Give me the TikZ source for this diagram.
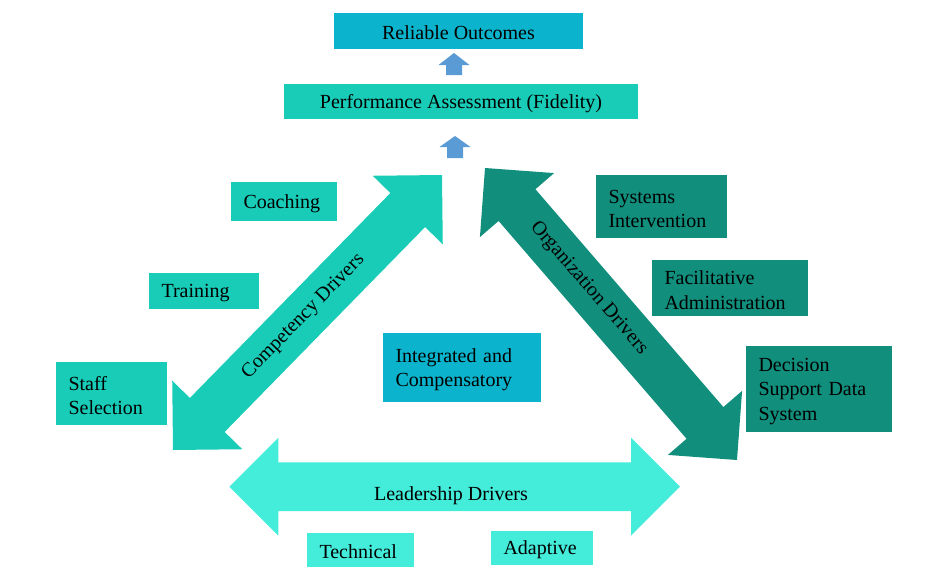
\documentclass[tikz,border=0pt]{standalone}
\usepackage{fontspec}
\setmainfont{Liberation Serif}
\usetikzlibrary{calc}
\definecolor{cyanbox}{RGB}{11,180,204}
\definecolor{compc}{RGB}{24,204,183}
\definecolor{orgc}{RGB}{18,142,125}
\definecolor{leadc}{RGB}{68,236,218}
\definecolor{smallarr}{RGB}{91,155,213}

% #1 colour, #2 start coordinate, #3 end coordinate
\newcommand\DblArrow[3]{%
  \coordinate (#2-h) at ($(#2)!49pt!(#3)$);
  \coordinate (#3-h) at ($(#3)!49pt!(#2)$);
  \fill[#1] (#2) -- ($(#2-h)!49pt!90:(#3)$) -- ($(#2-h)!24.3pt!90:(#3)$)
    -- ($(#3-h)!24.3pt!-90:(#2)$) -- ($(#3-h)!49pt!-90:(#2)$) -- (#3)
    -- ($(#3-h)!49pt!90:(#2)$) -- ($(#3-h)!24.3pt!90:(#2)$)
    -- ($(#2-h)!24.3pt!-90:(#3)$) -- ($(#2-h)!49pt!-90:(#3)$) -- cycle;
}

\begin{document}
\begin{tikzpicture}[x=1pt,y=-1pt,
  every node/.style={font=\fontsize{20}{24.5}\selectfont, text=black},
  box/.style={inner xsep=12.5pt, inner ysep=0pt, align=left,
    execute at begin node={\rule{0pt}{18pt}}},
  cbox/.style={inner sep=0pt, align=center,
    execute at begin node={\rule{0pt}{18pt}}}]
\useasboundingbox (0,0) rectangle (927,581);

% big double arrows
\coordinate (c1) at (173,450);
\coordinate (c2) at (442,175);
\coordinate (o1) at (485,168);
\coordinate (o2) at (737,460);
\coordinate (l1) at (229.3,486.7);
\coordinate (l2) at (680,486.7);
\DblArrow{compc}{c1}{c2}
\DblArrow{orgc}{o1}{o2}
\DblArrow{leadc}{l1}{l2}

\node[rotate=45.6] (comptext) at ($(c1)!0.485!(c2)$) {Competency Drivers};
\node[rotate=-49.2] (orgtext) at ($(o1)!0.412!(o2)$) {Organization Drivers};
\node[anchor=base] (leadtext) at (451,500) {Leadership Drivers};

% top boxes
\node[cbox, fill=cyanbox, minimum width=249pt, minimum height=36pt] (rel) at (458.5,31) {Reliable Outcomes};
\node[cbox, fill=compc, minimum width=354pt, minimum height=35pt] (perf) at (461,101.5) {Performance Assessment (Fidelity)};

% small arrows
\fill[smallarr] (454,53) -- (469.5,65) -- (462,65) -- (462,75) -- (446,75) -- (446,65) -- (438.5,65) -- cycle;
\fill[smallarr] (455,136) -- (470.5,147) -- (463,147) -- (463,158) -- (447,158) -- (447,147) -- (439.5,147) -- cycle;

% competency boxes
\node[box, fill=compc, minimum width=106pt, minimum height=39pt, text width=81pt] (coach) at (284,201.5) {Coaching};
\node[box, fill=compc, minimum width=110pt, minimum height=36pt, text width=85pt] (train) at (204,291) {Training};
\node[box, fill=compc, minimum width=111pt, minimum height=63pt, text width=86pt] (staff) at (111.5,393.5) {Staff\\Selection};

% centre
\node[box, fill=cyanbox, minimum width=158pt, minimum height=69pt, text width=133pt] (integ) at (462,367.5) {Integrated and\\Compensatory};

% organization boxes
\node[box, fill=orgc, minimum width=131pt, minimum height=63pt, text width=106pt] (sys) at (661.5,206.5) {Systems\\Intervention};
\node[box, fill=orgc, minimum width=156pt, minimum height=56pt, text width=131pt] (fac) at (730,288) {Facilitative\\Administration};
\node[box, fill=orgc, minimum width=146pt, minimum height=86pt, text width=121pt] (dec) at (819,389) {Decision\\Support Data\\System};

% leadership boxes
\node[box, fill=leadc, minimum width=107pt, minimum height=34pt, text width=82pt] (tech) at (360.5,550) {Technical};
\node[box, fill=leadc, minimum width=102pt, minimum height=34pt, text width=77pt] (adapt) at (542,548) {Adaptive};
\end{tikzpicture}
\end{document}
